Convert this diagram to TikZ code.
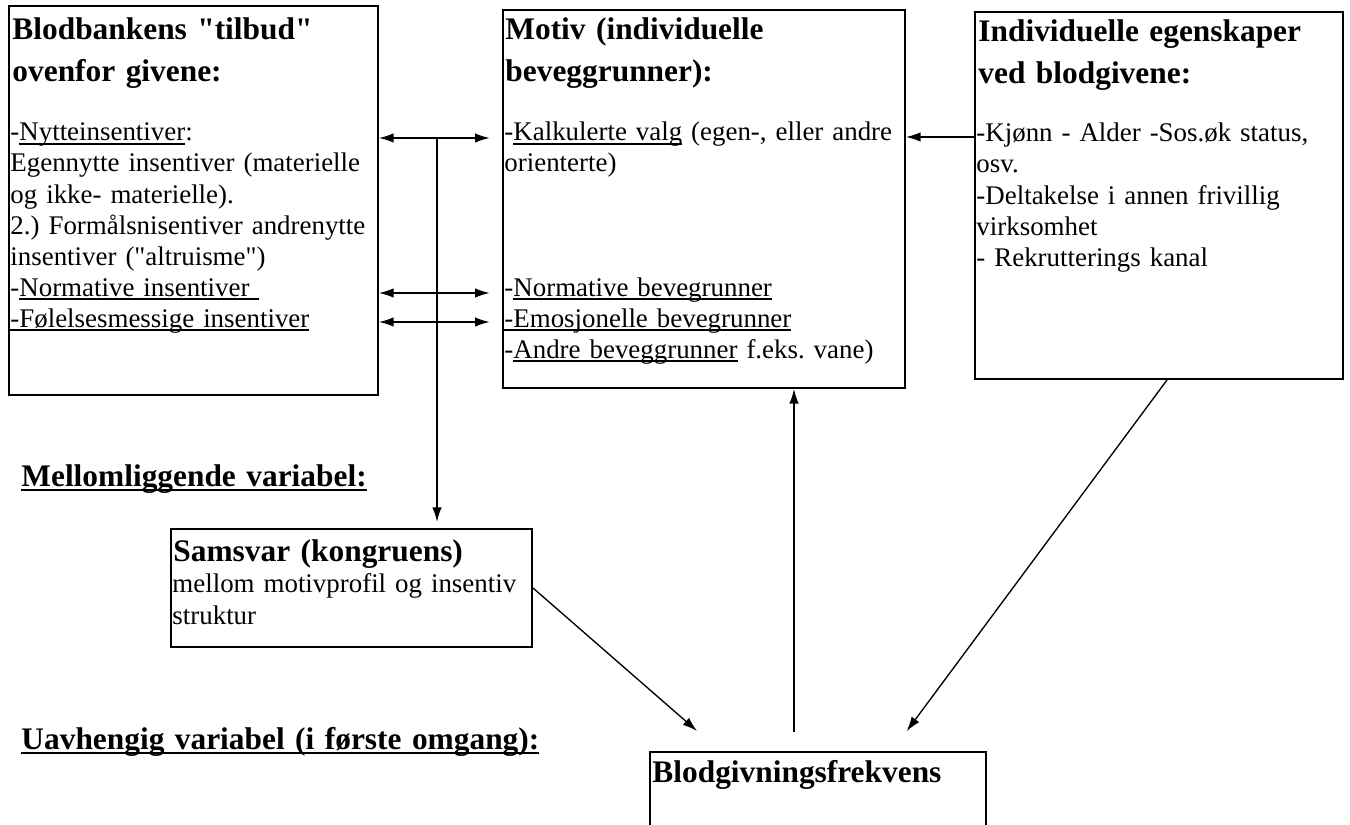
\documentclass[tikz,border=0pt]{standalone}
\usepackage{fontspec}
\setmainfont{Liberation Serif}
\usetikzlibrary{arrows.meta}
\usetikzlibrary{fit}
\frenchspacing
\newsavebox{\ulbox}
\newcommand{\ulin}[1]{\leavevmode\sbox{\ulbox}{#1}\rlap{\rule[-1.6pt]{\wd\ulbox}{0.6pt}}\usebox{\ulbox}}
\newcommand{\ulbold}[1]{\leavevmode\sbox{\ulbox}{#1}\rlap{\rule[-2pt]{\wd\ulbox}{1pt}}\usebox{\ulbox}}

\begin{document}
\begin{tikzpicture}[
        x = 0.446pt, y = -0.446pt,
        frame/.style = {
            draw,
            line width = 0.9pt,
            inner sep = 0pt
        },
        head/.style = {
            anchor = base west,
            inner sep = 0pt,
            text width = #1,
            align = left,
            font = \fontsize{14}{18.3}\selectfont\bfseries
        },
        head/.default = 260pt,
        body/.style = {
            anchor = base west,
            inner sep = 0pt,
            text width = #1,
            align = left,
            font = \fontsize{12}{13.83}\selectfont\frenchspacing
        },
        body/.default = 260pt,
        arr/.style = {-{Latex[length=6.5pt, width=4.2pt]}, line width = 0.6pt},
        dbl/.style = {{Latex[length=6.5pt, width=4.2pt]}-{Latex[length=6.5pt, width=4.2pt]}, line width = 0.6pt}
        ]
        \path[use as bounding box, clip] (0,0) rectangle (1350,825);
%
        \node[frame, fit = {(9,6) (378,395)}] (tilbud) {};
        \node[frame, fit = {(503,10) (905,388)}] (motiv) {};
        \node[frame, fit = {(975,12) (1343,379)}] (egensk) {};
        \node[frame, fit = {(171,529) (532,647)}] (samsvar) {};
        \node[frame, fit = {(650,752) (986,860)}] (frekvens) {};
%
        \node[head] (tilbudHead) at (12,40) {Blodbankens \textquotedbl tilbud\textquotedbl\\ ovenfor givene:};
        \node[body] (tilbudBody) at (10,141) {-\ulin{Nytteinsentiver}:\\ Egennytte insentiver (materielle\\ og ikke- materielle).\\ 2.) Formålsnisentiver andrenytte\\ insentiver (\textquotedbl altruisme\textquotedbl)\\ -\ulin{Normative insentiver\ }\\ \ulin{-Følelsesmessige insentiver}};
%
        \node[head] (motivHead) at (505,40) {Motiv (individuelle\\ beveggrunner):};
        \node[body] (motivBody) at (504,141) {-\ulin{Kalkulerte valg} (egen-, eller andre\\ orienterte)\\[41.5pt] -\ulin{Normative bevegrunner}\\ \ulin{-Emosjonelle bevegrunner}\\ -\ulin{Andre beveggrunner} f.eks. vane)};
%
        \node[head] (egenskHead) at (978,42) {Individuelle egenskaper\\ ved blodgivene:};
        \node[body] (egenskBody) at (976,142) {-Kjønn - Alder -Sos.øk status,\\ osv.\\ -Deltakelse i annen frivillig\\ virksomhet\\ - Rekrutterings kanal};
%
        \node[head] (samsvarHead) at (173,562) {Samsvar (kongruens)};
        \node[body] (samsvarBody) at (172,593) {mellom motivprofil og insentiv\\ struktur};
        \node[head] (frekvensHead) at (652,783) {Blodgivningsfrekvens};
%
        \node[head=300pt] (mellom) at (21,487) {\ulbold{Mellomliggende variabel:}};
        \node[head=300pt] (uavh) at (21,750) {\ulbold{Uavhengig variabel (i første omgang):}};
%
%
        \coordinate (split) at (437,138);
        \draw[dbl, shorten >= 5.5pt] (tilbud.east |- split) -- (motiv.west |- split);
        \draw[dbl, shorten >= 5.5pt] (tilbud.east |- 0,293) -- (motiv.west |- 0,293);
        \draw[dbl, shorten >= 5.5pt] (tilbud.east |- 0,322) -- (motiv.west |- 0,322);
        \draw[arr, shorten >= 2.7pt] (split) -- (samsvar.north -| split);
%
        \draw[arr] (egensk.west |- 0,137) -- (motiv.east |- 0,137);
        \draw[arr, shorten >= 13.6pt] (samsvar.east) -- (frekvens.north -| 720,0);
        \draw[arr, shorten <= 8.5pt] (frekvens.north -| 794,0) -- (motiv.south -| 794,0);
        \draw[arr, shorten >= 11pt] (egensk.south -| 1167,0) -- (frekvens.north -| 892,0);
\end{tikzpicture}
\end{document}
